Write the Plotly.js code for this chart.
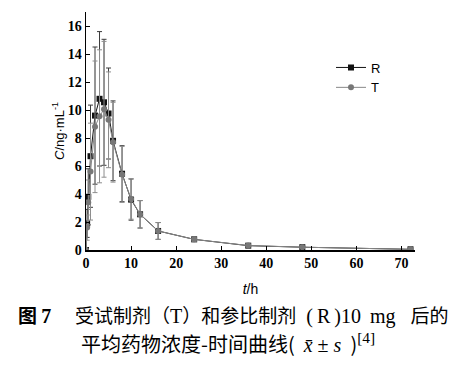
<!DOCTYPE html>
<html>
<head>
<meta charset="utf-8">
<script src="https://cdn.plot.ly/plotly-3.0.1.min.js"></script>
<style>html,body{margin:0;padding:0;background:#fff;}#chart{width:462px;height:371px;}</style>
</head>
<body>
<div id="chart"></div>
<script>
// Sampling times (h)
const times = [0, 0.25, 0.5, 1, 2, 3, 4, 5, 6, 8, 10, 12, 16, 24, 36, 48, 72];
// Reference formulation R: mean concentration and SD (ng/mL)
const rMean = [0, 1.9, 3.8, 6.7, 9.6, 10.8, 10.55, 9.75, 7.8, 5.45, 3.6, 2.55, 1.36, 0.76, 0.31, 0.2, 0.05];
const rSD   = [0, 1.0, 2.0, 3.65, 4.9, 4.8, 4.5, 3.25, 2.85, 2.0, 1.47, 0.98, 0.6, 0.15, 0.08, 0.05, 0.02];
// Test formulation T: mean concentration and SD (ng/mL)
const tMean = [0, 1.6, 3.4, 5.6, 8.8, 9.55, 10.05, 9.3, 7.7, 5.4, 3.65, 2.55, 1.36, 0.76, 0.32, 0.2, 0.05];
const tSD   = [0, 0.9, 1.6, 3.46, 4.7, 4.75, 4.85, 3.42, 2.85, 2.0, 1.45, 0.98, 0.6, 0.15, 0.08, 0.05, 0.02];
const seriesNames = ['R', 'T'];
const xTickVals = [0, 10, 20, 30, 40, 50, 60, 70];
const yTickVals = [0, 2, 4, 6, 8, 10, 12, 14, 16];

const SERIF = 'Liberation Serif, Times New Roman, serif';
const ser = (t, sz) => '<span style="font-family:' + SERIF + ';font-size:' + sz + 'px">' + t + '</span>';
const NB = '&#160;', TH = '&#8201;';
const captionLine1 = '受试制剂（' + ser('T', 20) + '）和参比制剂' +
  ser(NB + NB + '(' + TH + 'R' + TH + ')' + '10' + NB + TH + 'mg' + NB + NB + NB, 20) + '后的';
const captionLine2 = '平均药物浓度-时间曲线(' + ser(NB + TH + '<i>x̄</i> ± <i>s</i>' + TH + NB, 20) + ')' +
  ser('<sup>[4]</sup>', 22);

const W = 462, H = 371;
const M = {l: 86, r: 47, t: 12, b: 121};
const plotH = H - M.t - M.b;
const plotW = W - M.l - M.r;
const py = px => (H - M.b - px) / plotH; // pixel row -> paper y
const pxX = px => (px - M.l) / plotW;    // pixel column -> paper x

const tickFont = {family: SERIF, size: 14, color: '#000', weight: 'bold'};

const traces = [
  {
    x: times, y: rMean, name: seriesNames[0], type: 'scatter', mode: 'lines+markers',
    line: {color: '#111', width: 1},
    marker: {symbol: 'square', size: 6, color: '#111'},
    error_y: {type: 'data', array: rSD, visible: true, color: '#3a3a3a', thickness: 1, width: 2.5}
  },
  {
    x: times, y: tMean, name: seriesNames[1], type: 'scatter', mode: 'lines+markers',
    line: {color: '#888', width: 1},
    marker: {symbol: 'circle', size: 6, color: '#777'},
    error_y: {type: 'data', array: tSD, visible: true, color: '#8e8e8e', thickness: 1, width: 2.5}
  }
];

const layout = {
  width: W, height: H,
  margin: M,
  paper_bgcolor: '#fff', plot_bgcolor: '#fff',
  showlegend: true,
  legend: {
    x: pxX(331), y: py(52.5), xanchor: 'left', yanchor: 'top',
    font: {family: 'Liberation Sans', size: 13, color: '#000'},
    bgcolor: 'rgba(0,0,0,0)', tracegroupgap: 0, itemwidth: 30
  },
  xaxis: {
    range: [0, 73], tickvals: xTickVals, ticks: 'inside', ticklen: 4, tickwidth: 1, tickcolor: '#000',
    showline: true, linecolor: '#000', linewidth: 1.5, showgrid: false, zeroline: false,
    tickfont: tickFont,
    title: {text: '<i>t</i>/h', font: {family: 'Liberation Sans', size: 14, color: '#000'}, standoff: 14}
  },
  yaxis: {
    range: [0, 17], tickvals: yTickVals, ticks: 'inside', ticklen: 4, tickwidth: 1, tickcolor: '#000',
    showline: true, linecolor: '#000', linewidth: 1.5, showgrid: false, zeroline: false,
    tickfont: tickFont,
    title: {text: '<i>C</i>/ng·mL<sup>-1</sup>', font: {family: 'Liberation Sans', size: 13, color: '#000'}, standoff: 0}
  },
  annotations: [
    {xref: 'paper', yref: 'paper', x: pxX(16), y: py(314), xanchor: 'left', yanchor: 'middle', showarrow: false,
     text: '<b>图 ' + ser('7', 20) + '</b>', font: {family: 'Noto Sans CJK SC', size: 19, color: '#000'}},
    {xref: 'paper', yref: 'paper', x: pxX(73), y: py(314), xanchor: 'left', yanchor: 'middle', showarrow: false,
     text: captionLine1, font: {family: 'Noto Sans CJK SC', size: 19, color: '#000'}},
    {xref: 'paper', yref: 'paper', x: pxX(79), y: py(343), xanchor: 'left', yanchor: 'middle', showarrow: false,
     text: captionLine2, font: {family: 'Noto Sans CJK SC', size: 20, color: '#000'}}
  ]
};

Plotly.newPlot('chart', traces, layout, {displayModeBar: false, staticPlot: true});
</script>
</body>
</html>
